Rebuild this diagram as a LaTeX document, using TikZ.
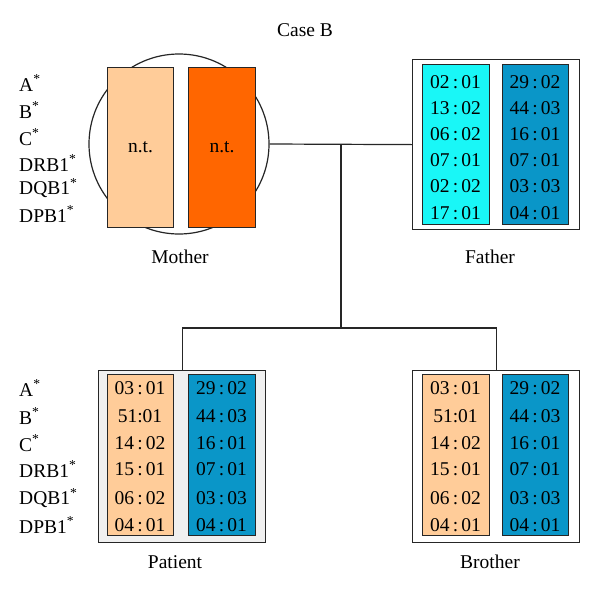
\documentclass[tikz,border=0pt]{standalone}
\usepackage{fontspec}
\setmainfont{Liberation Serif}
\begin{document}
\begin{tikzpicture}[x=1pt,y=-1pt,
  every node/.style={font=\fontsize{19.5}{22}\selectfont, inner sep=0pt},
  allele/.style={draw=black!85, line width=1.1pt, anchor=north west},
  outerbox/.style={draw=black!85, line width=1.2pt, anchor=north west},
  conn/.style={draw=black!85, line width=1.2pt},
  lbl/.style={anchor=west},
  caption/.style={anchor=center}]
\definecolor{peach}{HTML}{FFCC99}
\definecolor{darkorange}{HTML}{FF6600}
\definecolor{cyanc}{HTML}{19F7F7}
\definecolor{bluec}{HTML}{0A96C8}
\definecolor{boxgray}{HTML}{F0F0F0}
\useasboundingbox (0,0) rectangle (600,595);
\fill[white] (0,0) rectangle (600,595);

\node (title) at (305,30) {Case B};

% Mother
\node[circle, draw=black!85, line width=1.2pt, minimum size=180pt] (mcirc) at (179,144) {};
\node[allele, fill=peach, minimum width=66pt, minimum height=160pt] (m1) at (107,67) {};
\node[allele, fill=darkorange, minimum width=67pt, minimum height=160pt] (m2) at (188,67) {};
\node at (m1.center) (m1t) {n.t.};
\node at (m2.center) (m2t) {n.t.};
\node[caption] (mlab) at (180,257) {Mother};

% labels top
\node[lbl] (ta) at (19,83) {A\textsuperscript{*}};
\node[lbl] (tb) at (19,110) {B\textsuperscript{*}};
\node[lbl] (tc) at (19,137) {C\textsuperscript{*}};
\node[lbl] (tdr) at (19,163) {DRB1\textsuperscript{*}};
\node[lbl] (tdq) at (19,188) {DQB1\textsuperscript{*}};
\node[lbl] (tdp) at (19,214) {DPB1\textsuperscript{*}};

% Father
\node[outerbox, fill=white, minimum width=167pt, minimum height=170pt] (fbox) at (412,59) {};
\node[allele, fill=cyanc, minimum width=67pt, minimum height=160pt] (f1) at (422,64) {};
\node[allele, fill=bluec, minimum width=66pt, minimum height=160pt] (f2) at (502,64) {};
\node (f1a) at (455.5,82) {02\,:\,01};
\node (f1b) at (455.5,108) {13\,:\,02};
\node (f1c) at (455.5,134) {06\,:\,02};
\node (f1d) at (455.5,160) {07\,:\,01};
\node (f1e) at (455.5,186) {02\,:\,02};
\node (f1f) at (455.5,213) {17\,:\,01};
\node (f2a) at (535,82) {29\,:\,02};
\node (f2b) at (535,108) {44\,:\,03};
\node (f2c) at (535,134) {16\,:\,01};
\node (f2d) at (535,160) {07\,:\,01};
\node (f2e) at (535,186) {03\,:\,03};
\node (f2f) at (535,213) {04\,:\,01};
\node[caption] (flab) at (490,257) {Father};

% Patient
\node[outerbox, fill=boxgray, minimum width=167pt, minimum height=172pt] (pbox) at (98,370) {};
\node[allele, fill=peach, minimum width=66pt, minimum height=161pt] (p1) at (107,374) {};
\node[allele, fill=bluec, minimum width=67pt, minimum height=161pt] (p2) at (188,374) {};
\node (p1a) at (140,388) {03\,:\,01};
\node (p1b) at (140,416) {51:01};
\node (p1c) at (140,443) {14\,:\,02};
\node (p1d) at (140,469) {15\,:\,01};
\node (p1e) at (140,498) {06\,:\,02};
\node (p1f) at (140,525) {04\,:\,01};
\node (p2a) at (221.5,388) {29\,:\,02};
\node (p2b) at (221.5,416) {44\,:\,03};
\node (p2c) at (221.5,443) {16\,:\,01};
\node (p2d) at (221.5,469) {07\,:\,01};
\node (p2e) at (221.5,498) {03\,:\,03};
\node (p2f) at (221.5,525) {04\,:\,01};
\node[caption] (plab) at (175,562) {Patient};

% labels bottom
\node[lbl] (ba) at (19,388) {A\textsuperscript{*}};
\node[lbl] (bb) at (19,416) {B\textsuperscript{*}};
\node[lbl] (bc) at (19,443) {C\textsuperscript{*}};
\node[lbl] (bdr) at (19,469) {DRB1\textsuperscript{*}};
\node[lbl] (bdq) at (19,498) {DQB1\textsuperscript{*}};
\node[lbl] (bdp) at (19,525) {DPB1\textsuperscript{*}};

% Brother
\node[outerbox, fill=white, minimum width=167pt, minimum height=172pt] (bbox) at (412,370) {};
\node[allele, fill=peach, minimum width=67pt, minimum height=161pt] (b1) at (422,374) {};
\node[allele, fill=bluec, minimum width=66pt, minimum height=161pt] (b2) at (502,374) {};
\node (b1a) at (455.5,388) {03\,:\,01};
\node (b1b) at (455.5,416) {51:01};
\node (b1c) at (455.5,443) {14\,:\,02};
\node (b1d) at (455.5,469) {15\,:\,01};
\node (b1e) at (455.5,498) {06\,:\,02};
\node (b1f) at (455.5,525) {04\,:\,01};
\node (b2a) at (535,388) {29\,:\,02};
\node (b2b) at (535,416) {44\,:\,03};
\node (b2c) at (535,443) {16\,:\,01};
\node (b2d) at (535,469) {07\,:\,01};
\node (b2e) at (535,498) {03\,:\,03};
\node (b2f) at (535,525) {04\,:\,01};
\node[caption] (blab) at (490,562) {Brother};

% connectors
\coordinate (j1) at (341,144);
\coordinate (j2) at (341,328);
\draw[conn] (mcirc.east) -- (fbox.west);
\draw[conn] (j1) -- (j2);
\draw[conn] (pbox.north) |- (j2) -| (bbox.north);
\end{tikzpicture}
\end{document}
